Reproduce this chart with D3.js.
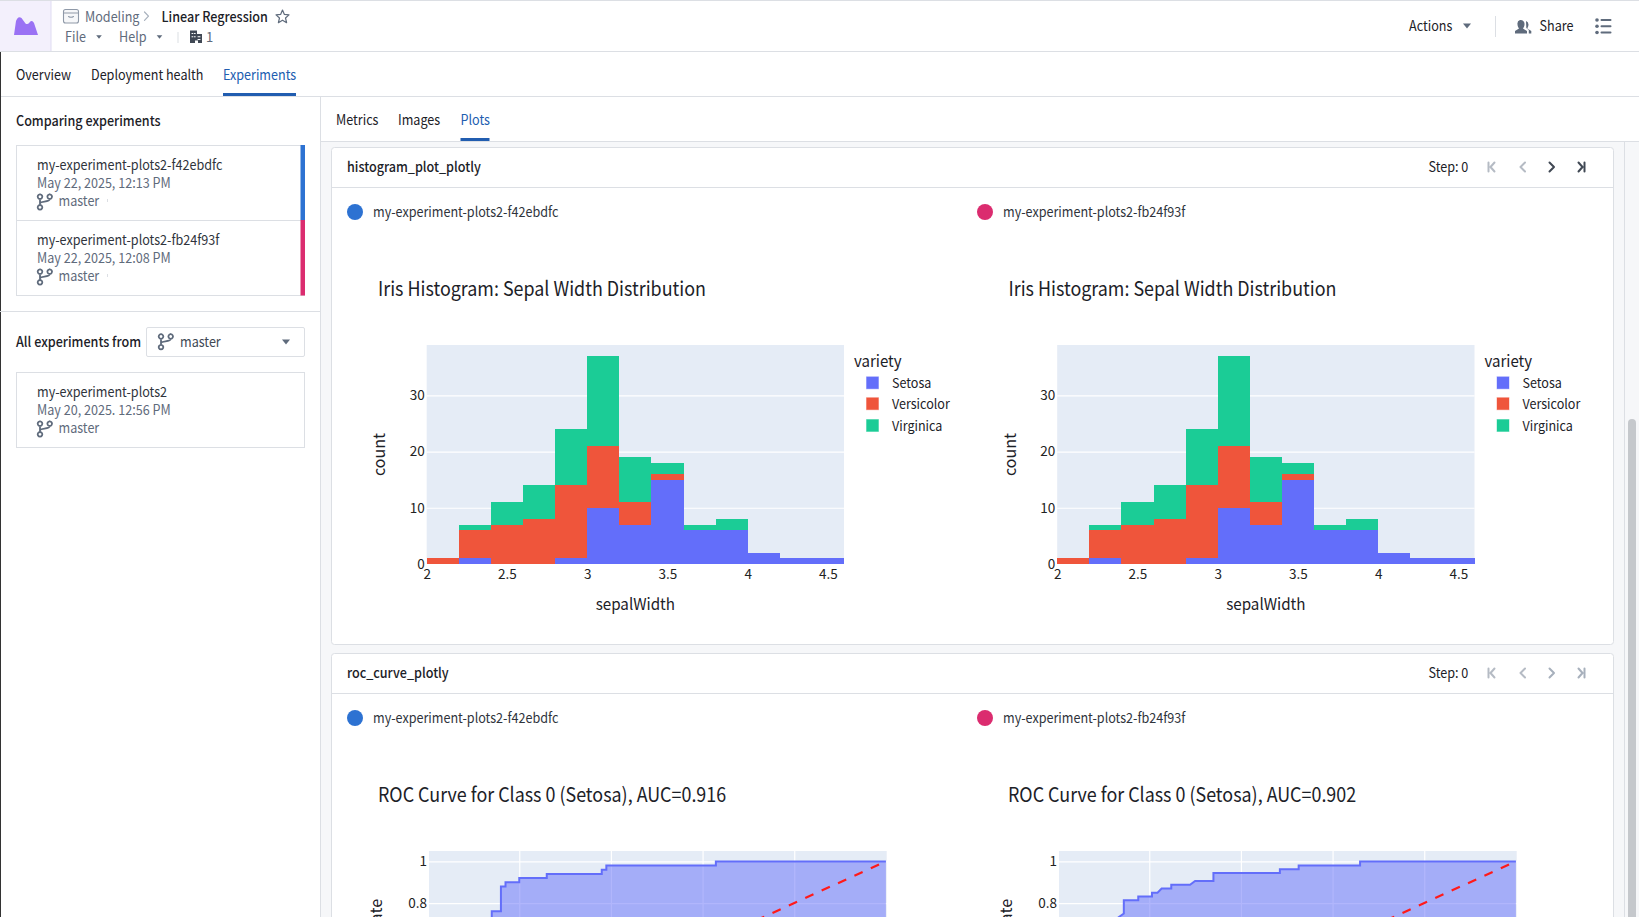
<!DOCTYPE html>
<html>
<head>
<meta charset="utf-8">
<title>Experiments</title>
<script src="https://cdn.jsdelivr.net/npm/d3@7/dist/d3.min.js"></script>
<style>
  html, body { margin: 0; padding: 0; background: #fff; overflow: hidden; }
  svg { display: block; }
  text { font-family: "Noto Sans CJK JP", "Noto Sans", sans-serif; }
  .axis path.domain { display: none; }
  .axis line { stroke: #fff; stroke-width: 1.2; }
  .axis text { font-size: 13.5px; fill: #222; }
</style>
</head>
<body>
<svg id="page" width="1639" height="917"></svg>
<script>
// histogram data, one value per 0.2 wide bin
const binEdges = [2, 2.2, 2.4, 2.6, 2.8, 3, 3.2, 3.4, 3.6, 3.8, 4, 4.2, 4.4, 4.6];
const setosa = [0, 1, 0, 0, 1, 10, 7, 15, 6, 6, 2, 1, 1];
const versicolor = [1, 5, 7, 8, 13, 11, 4, 1, 0, 0, 0, 0, 0];
const virginica = [0, 1, 4, 6, 10, 16, 8, 2, 1, 2, 0, 0, 0];
const varieties = ["Setosa", "Versicolor", "Virginica"];
const varietyColors = ["#636efa", "#ef553b", "#1bcc96"];
const histXTicks = [2, 2.5, 3, 3.5, 4, 4.5];
const histYTicks = [0, 10, 20, 30];

// roc curves, only the upper part is visible in the panel
const rocFprA = [0, 0.14, 0.14, 0.16, 0.16, 0.17, 0.17, 0.2, 0.2, 0.26, 0.26, 0.38, 0.38, 0.39, 0.39, 0.629, 0.629, 1];
const rocTprA = [0, 0.7, 0.76, 0.76, 0.88, 0.88, 0.9, 0.9, 0.92, 0.92, 0.94, 0.94, 0.96, 0.96, 0.98, 0.98, 1, 1];
const rocFprB = [0, 0.132, 0.1445, 0.1445, 0.176, 0.176, 0.206, 0.206, 0.218, 0.227, 0.248, 0.248, 0.289, 0.3, 0.34, 0.34, 0.485, 0.485, 0.526, 0.526, 0.66, 0.66, 1];
const rocTprB = [0, 0.73, 0.75, 0.813, 0.813, 0.832, 0.832, 0.85, 0.85, 0.87, 0.87, 0.888, 0.888, 0.906, 0.906, 0.944, 0.944, 0.962, 0.962, 0.98, 0.98, 1, 1];
const rocGridTicks = [0, 0.2, 0.4, 0.6, 0.8, 1];
const rocYLabelTicks = [0.8, 1];
const expA = "my-experiment-plots2-f42ebdfc";
const expB = "my-experiment-plots2-fb24f93f";

const INK = "#1c2127", MUTED = "#5f6b7c", BLUE = "#215db0", LINE = "#dcdfe4", PALE = "#f6f7f9";
const EXP_BLUE = "#2d72d2", EXP_PINK = "#db2c6f";

const svg = d3.select("#page");

function rect(x, y, w, h, fill, stroke) {
    return svg.append("rect").attr("x", x).attr("y", y).attr("width", w).attr("height", h)
        .attr("fill", fill).attr("stroke", stroke || "none");
}

// the installed face runs wider than the one in the picture, so squeeze it sideways
function label(str, x, y, size, color, weight, anchor, squeeze) {
    return svg.append("text").attr("transform", `translate(${x},${y}) scale(${squeeze || 0.9},1)`).attr("dy", "0.38em")
        .attr("font-size", size).attr("fill", color || INK)
        .attr("font-weight", weight || 400).attr("text-anchor", anchor || "start").text(str);
}

function icon(d, x, y, color, filled, width) {
    return svg.append("path").attr("d", d).attr("transform", `translate(${x},${y})`)
        .attr("fill", filled ? color : "none").attr("stroke", filled ? "none" : color)
        .attr("stroke-width", width || 1.5).attr("stroke-linecap", "round").attr("stroke-linejoin", "round");
}

function caret(x, y, half) {
    const h = half || 4;
    icon(`M${-h},${-h * 0.6} L${h},${-h * 0.6} L0,${h * 0.6} Z`, x, y, MUTED, true);
}

// origin is the centre of the top left ring
const BRANCH = "M0,2.3 V8.3 M0,6.8 C0,3.8 9.7,6 9.7,2.3 M0,-2.3 a2.3,2.3 0 1 0 .01,0 M0,8.3 a2.3,2.3 0 1 0 .01,0 M9.7,-2.3 a2.3,2.3 0 1 0 .01,0";

/* Page frame */
function drawFrame() {
    rect(0, 0, 1639, 1, LINE);
    rect(0, 51, 1639, 1, LINE);
    rect(0, 96, 1639, 1, LINE);
    rect(0, 52, 1, 865, "#333");
    rect(320, 97, 1, 820, LINE);
    rect(321, 97, 1318, 820, PALE);
    rect(321, 97, 1318, 44, "#fff");
    rect(321, 141, 1318, 1, LINE);

    // logo
    rect(0, 1, 51, 50, "#f3f0fc");
    rect(50.5, 1, 1, 50, "#e0dcf2");
    icon("M14,35 L16,21 Q18,15.5 21.5,18 L25.5,23.5 Q27.5,25 29.5,22.5 Q32,19.5 34,23 L38,35 Z", 0, 0, "#9a72f4", true);

    // breadcrumb
    svg.append("rect").attr("x", 63.5).attr("y", 9.5).attr("width", 15).attr("height", 13.5).attr("rx", 2)
        .attr("fill", "#f6f7f9").attr("stroke", "#8f99a8").attr("stroke-width", 1.1);
    icon("M63.5,13 H78.5 M68.5,16.5 Q71,18 73.5,16.5", 0, 0, "#8f99a8", false, 1.1);
    label("Modeling", 85, 16.2, 14, MUTED);
    icon("M0,0 L4,4.2 L0,8.4", 144.5, 12, "#a7b0bc", false, 1.2);
    label("Linear Regression", 161.5, 16.2, 14, INK, 500);
    icon("M6.5,0 L8.4,4.4 L13,4.9 L9.5,8 L10.6,12.7 L6.5,10.2 L2.4,12.7 L3.5,8 L0,4.9 L4.6,4.4 Z", 276, 10, MUTED, false, 1.2);
    label("File", 65, 37, 14, MUTED);
    caret(99, 37, 2.8);
    label("Help", 119, 37, 14, MUTED);
    caret(159.5, 37, 2.8);
    rect(177.5, 32, 1, 11, LINE);
    icon("M0,0 H7 V3.5 H12 V12.5 H8 V10 H5 V12.5 H0 Z", 190, 30.5, "#404854", true);
    icon("M2,3 H2.8 M4.4,3 H5.2 M2,6.3 H2.8 M4.4,6.3 H5.2 M8,6.3 H10 M8,9 H10", 190, 30.5, "#fff", false, 1.1);
    label("1", 206, 37, 13, MUTED, 400, "start", 1);

    label("Actions", 1409, 26, 14, INK);
    caret(1467, 26);
    rect(1495, 16, 1, 21, LINE);
    icon("M5.5,0 a4,4 0 0 1 4,4.5 c0,2 -1,3.2 -1.5,4 l4,2.5 v2.5 h-12 v-2.5 l4,-2.5 c-.5,-.8 -1.5,-2 -1.5,-4 a4,4 0 0 1 2.5,-4.5 Z M11,1 a4,4 0 0 1 2.5,3.5 c0,2 -1,3 -1.2,4 l4,2.5 v2.5 h-2.5 v-3.5 l-2.5,-2 Z", 1515, 20, MUTED, true);
    label("Share", 1539.5, 26, 14, INK);
    icon("M1601.5,20 H1610.5 M1601.5,26.3 H1610.5 M1601.5,32.5 H1610.5", 0, 0, MUTED, false, 2);
    svg.selectAll(null).data([20, 26.3, 32.5]).join("circle")
        .attr("cx", 1597).attr("cy", d => d).attr("r", 1.8).attr("fill", MUTED);

    // main tabs
    label("Overview", 16, 74.3, 14, INK);
    label("Deployment health", 91, 74.3, 14, INK);
    label("Experiments", 223, 74.3, 14, BLUE);
    rect(223, 93, 73, 3, BLUE);

    // plot tabs
    label("Metrics", 336, 119.4, 14, INK);
    label("Images", 398, 119.4, 14, INK);
    label("Plots", 460.5, 119.4, 14, BLUE);
    rect(460.5, 138, 29, 3, BLUE);

    // scrollbar
    rect(1624, 142, 1, 775, LINE);
    rect(1628, 419, 8, 510, "#c5c8cc").attr("rx", 4);
}

/* Left column with the experiment cards */
function drawSidebar() {
    label("Comparing experiments", 16, 121, 14, INK, 500);

    rect(16.5, 145.5, 288, 150, "#fff", LINE);
    rect(16.5, 220, 288, 1, LINE);
    rect(300.5, 145, 4.5, 75, EXP_BLUE);
    rect(300.5, 220, 4.5, 75.5, EXP_PINK);
    experimentRow(expA, "May 22, 2025, 12:13 PM", 165);
    rect(107, 199, 1, 3, LINE);
    experimentRow(expB, "May 22, 2025, 12:08 PM", 240);
    rect(107, 274, 1, 3, LINE);

    rect(0, 311, 320, 1, LINE);
    label("All experiments from", 16, 342, 14, INK, 500);
    rect(146.5, 327.5, 158, 29, "#fff", LINE).attr("rx", 1.5);
    icon(BRANCH, 161, 336.5, MUTED, false, 1.8);
    label("master", 180, 342, 14, "#404854");
    caret(286, 342);

    rect(16.5, 372.5, 288, 75, "#fff", LINE);
    experimentRow("my-experiment-plots2", "May 20, 2025. 12:56 PM", 392);
}

function experimentRow(name, date, y) {
    label(name, 37, y, 14, "#2f343c");
    label(date, 37, y + 18, 14, MUTED);
    icon(BRANCH, 40, y + 31.7, MUTED, false, 1.8);
    label("master", 58.5, y + 36, 14, MUTED);
}

/* White panel with its title row and the step buttons */
function drawPanel(title, top, bottom, navColor) {
    rect(331.5, top + 0.5, 1282, bottom - top, "#fff", LINE).attr("rx", 3);
    rect(332, top + 40, 1281, 1, LINE);
    label(title, 347, top + 20, 14, INK, 500);
    label("Step: 0", 1428.5, top + 20, 14, INK);

    const y = top + 20;
    icon("M-3,-4.5 V4.5 M3,-4.5 L-1,0 L3,4.5", 1491.5, y, "#b5bbc4", false, 2);
    icon("M2.5,-4.5 L-2,0 L2.5,4.5", 1522.5, y, "#b5bbc4", false, 2);
    icon("M-2.5,-4.5 L2,0 L-2.5,4.5", 1552, y, navColor, false, 2);
    icon("M3,-4.5 V4.5 M-3,-4.5 L1,0 L-3,4.5", 1581.5, y, navColor, false, 2);

    experimentKey(expA, 355, 373, EXP_BLUE, top + 65);
    experimentKey(expB, 985, 1003, EXP_PINK, top + 65);
}

function experimentKey(name, dotX, textX, color, y) {
    svg.append("circle").attr("cx", dotX).attr("cy", y).attr("r", 8).attr("fill", color);
    label(name, textX, y, 14, "#2f343c");
}

/* Stacked histogram, same figure in both columns */
function drawHistogram(left) {
    const top = 345, width = 417.3, height = 219;
    const x = d3.scaleLinear().domain([2, 4.6]).range([left, left + width]);
    const y = d3.scaleLinear().domain([0, 38.947]).range([top + height, top]);

    label("Iris Histogram: Sepal Width Distribution", left - 48.7, 288.3, 20, INK, 400, "start", 0.895);
    rect(left, top, width, height, "#e5ecf6");

    svg.append("g").attr("class", "axis").attr("transform", `translate(${left},0)`)
        .call(d3.axisLeft(y).tickValues(histYTicks).tickSize(-width).tickPadding(2).tickFormat(d3.format("d")))
        .call(g => g.selectAll("text").attr("x", -2));

    // one row per bin, so d3.stack can pile the three varieties
    const rows = setosa.map((_, i) => ({
        Setosa: setosa[i], Versicolor: versicolor[i], Virginica: virginica[i], x0: binEdges[i], x1: binEdges[i + 1]
    }));
    const layers = d3.stack().keys(varieties)(rows);
    svg.append("g").attr("shape-rendering", "crispEdges").selectAll("g").data(layers).join("g")
        .attr("fill", (d, i) => varietyColors[i])
        .selectAll("rect").data(d => d).join("rect")
        .attr("x", d => x(d.data.x0))
        .attr("width", d => x(d.data.x1) - x(d.data.x0))
        .attr("y", d => y(d[1]))
        .attr("height", d => y(d[0]) - y(d[1]));

    svg.append("g").attr("class", "axis").attr("transform", `translate(0,${top + height})`)
        .call(d3.axisBottom(x).tickValues(histXTicks).tickSize(0).tickPadding(5).tickFormat(d => String(d)));

    label("sepalWidth", left + width / 2, 603.7, 16, INK, 400, "middle", 0.95);
    svg.append("text").attr("transform", `translate(${left - 47},${top + height / 2}) rotate(-90)`)
        .attr("dy", "0.35em").attr("text-anchor", "middle").attr("font-size", 16).attr("fill", INK).text("count");

    // legend
    const legendX = left + width + 10;
    label("variety", legendX, 360.7, 16, INK, 400, "start", 0.94);
    const rowsY = [383.3, 404.2, 426];
    varieties.forEach((name, i) => {
        rect(legendX + 12.5, rowsY[i] - 6.5, 12, 12, varietyColors[i], varietyColors[i]).attr("stroke-opacity", 0.4);
        label(name, legendX + 38, rowsY[i], 13.5, INK, 400, "start", 0.93);
    });
}

/* ROC curve, the panel runs off the bottom of the window */
function drawRoc(left, title, fpr, tpr) {
    const top = 851, width = 458.3, height = 229;
    const x = d3.scaleLinear().domain([0, 1]).range([left, left + width]);
    const y = d3.scaleLinear().domain([-0.05, 1.05]).range([top + height, top]);
    const points = fpr.map((d, i) => [d, tpr[i]]);

    label(title, left - 49.6, 794.3, 20, INK, 400, "start", 0.895);
    rect(left + 1.4, top, width - 0.6, height, "#e5ecf6");

    svg.append("g").attr("class", "axis").attr("transform", `translate(${left + 1.4},0)`)
        .call(d3.axisLeft(y).tickValues(rocGridTicks).tickSize(-(width - 0.6)).tickPadding(2)
            .tickFormat(d => rocYLabelTicks.includes(d) ? String(d) : ""));
    svg.append("g").attr("class", "axis").attr("transform", `translate(0,${top + height})`)
        .call(d3.axisBottom(x).tickValues(rocGridTicks.slice(1, -1)).tickSize(-height).tickFormat(""));

    svg.append("path").datum(points)
        .attr("fill", "#636efa").attr("fill-opacity", 0.5)
        .attr("d", d3.area().x(d => x(d[0])).y0(y(0)).y1(d => y(d[1])));
    svg.append("path").datum(points)
        .attr("fill", "none").attr("stroke", "#636efa").attr("stroke-width", 2)
        .attr("d", d3.line().x(d => x(d[0])).y(d => y(d[1])));
    svg.append("path").datum([[0, 0], [1, 1]])
        .attr("fill", "none").attr("stroke", "#ff1a1a").attr("stroke-width", 2.2)
        .attr("stroke-dasharray", "9 9").attr("stroke-dashoffset", -0.8)
        .attr("d", d3.line().x(d => x(d[0])).y(d => y(d[1])));

    svg.append("text").attr("transform", `translate(${left - 51},${top + height / 2}) rotate(-90)`)
        .attr("dy", "0.35em").attr("text-anchor", "middle").attr("font-size", 16).attr("fill", INK)
        .text("True Positive Rate");
}

drawFrame();
drawSidebar();
drawPanel("histogram_plot_plotly", 147, 644, "#404854");
drawHistogram(426.7);
drawHistogram(1057.2);
drawPanel("roc_curve_plotly", 653, 1000, "#a7b0bc");
drawRoc(427.6, "ROC Curve for Class 0 (Setosa), AUC=0.916", rocFprA, rocTprA);
drawRoc(1057.6, "ROC Curve for Class 0 (Setosa), AUC=0.902", rocFprB, rocTprB);
</script>
</body>
</html>
